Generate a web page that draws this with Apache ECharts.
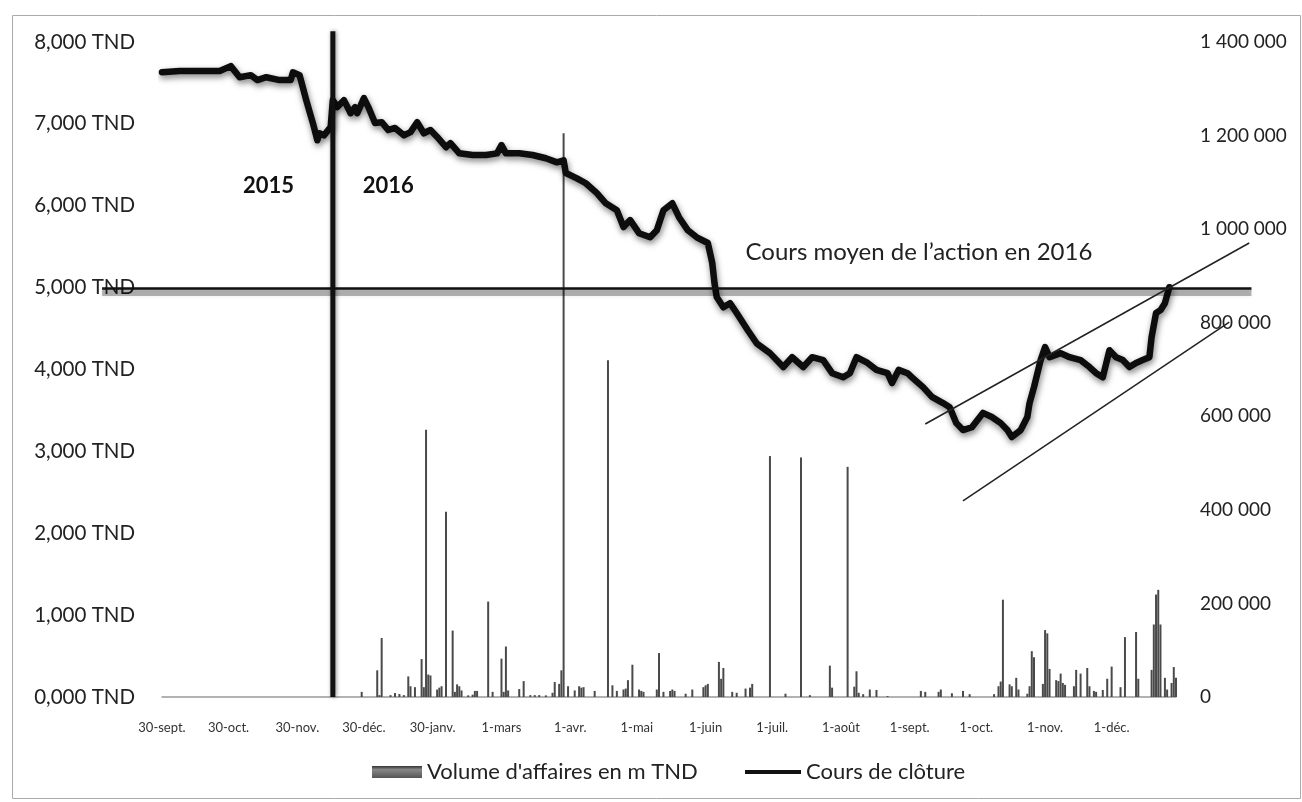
<!DOCTYPE html>
<html><head><meta charset="utf-8">
<script src="https://cdn.jsdelivr.net/npm/echarts@6/dist/echarts.min.js"></script>
<style>html,body{margin:0;padding:0;background:#fff}#c{width:1302px;height:802px}</style>
</head><body><div id="c"></div>
<script>
// ---------- data ----------
const startDate = '2015-09-30';
const endDate = '2016-12-30';

const tickDates = ['2015-09-30','2015-10-30','2015-11-30','2015-12-30','2016-01-30','2016-03-01','2016-04-01','2016-05-01','2016-06-01','2016-07-01','2016-08-01','2016-09-01','2016-10-01','2016-11-01','2016-12-01'];
const tickLabels = ['30-sept.','30-oct.','30-nov.','30-déc.','30-janv.','1-mars','1-avr.','1-mai','1-juin','1-juil.','1-août','1-sept.','1-oct.','1-nov.','1-déc.'];
const leftTickLabels = ['0,000 TND','1,000 TND','2,000 TND','3,000 TND','4,000 TND','5,000 TND','6,000 TND','7,000 TND','8,000 TND'];
const rightTickLabels = ['0','200 000','400 000','600 000','800 000','1 000 000','1 200 000','1 400 000'];

const priceName = 'Cours de clôture';
const volumeName = "Volume d'affaires en m TND";

const priceDates = ['2015-09-30','2015-10-08','2015-10-17','2015-10-26','2015-10-31','2015-11-04','2015-11-09','2015-11-12','2015-11-16','2015-11-22','2015-11-27','2015-11-28','2015-12-01','2015-12-04','2015-12-07','2015-12-09','2015-12-10','2015-12-12','2015-12-15','2015-12-16','2015-12-18','2015-12-21','2015-12-24','2015-12-26','2015-12-27','2015-12-30','2016-01-01','2016-01-04','2016-01-07','2016-01-10','2016-01-13','2016-01-17','2016-01-20','2016-01-23','2016-01-26','2016-01-29','2016-02-01','2016-02-05','2016-02-07','2016-02-11','2016-02-17','2016-02-23','2016-02-28','2016-03-01','2016-03-03','2016-03-09','2016-03-15','2016-03-21','2016-03-26','2016-03-29','2016-03-30','2016-04-04','2016-04-08','2016-04-13','2016-04-17','2016-04-22','2016-04-25','2016-04-28','2016-05-02','2016-05-07','2016-05-10','2016-05-13','2016-05-17','2016-05-20','2016-05-24','2016-05-28','2016-06-02','2016-06-04','2016-06-05','2016-06-06','2016-06-09','2016-06-12','2016-06-15','2016-06-20','2016-06-24','2016-06-30','2016-07-06','2016-07-10','2016-07-15','2016-07-19','2016-07-24','2016-07-28','2016-08-02','2016-08-05','2016-08-08','2016-08-13','2016-08-17','2016-08-22','2016-08-24','2016-08-27','2016-08-31','2016-09-02','2016-09-07','2016-09-11','2016-09-16','2016-09-19','2016-09-22','2016-09-25','2016-09-29','2016-10-04','2016-10-08','2016-10-12','2016-10-15','2016-10-17','2016-10-21','2016-10-24','2016-10-25','2016-10-27','2016-10-30','2016-11-01','2016-11-03','2016-11-08','2016-11-12','2016-11-17','2016-11-21','2016-11-24','2016-11-27','2016-11-30','2016-12-03','2016-12-06','2016-12-09','2016-12-12','2016-12-15','2016-12-18','2016-12-19','2016-12-21','2016-12-23','2016-12-25','2016-12-27'];
const priceValues = [7630,7645,7645,7645,7705,7570,7595,7535,7570,7535,7535,7630,7595,7290,7010,6800,6885,6860,6960,7290,7205,7290,7130,7205,7130,7315,7205,7010,7020,6925,6950,6860,6900,7020,6885,6925,6840,6715,6765,6640,6620,6620,6640,6740,6640,6640,6620,6580,6530,6555,6400,6335,6275,6155,6030,5945,5740,5825,5665,5615,5700,5945,6030,5860,5700,5615,5545,5300,5055,4885,4760,4810,4690,4480,4320,4200,4030,4150,4030,4150,4115,3955,3905,3955,4150,4080,3995,3955,3835,3995,3955,3905,3785,3665,3590,3540,3345,3260,3295,3470,3420,3345,3260,3175,3260,3420,3590,3785,4115,4275,4150,4200,4150,4115,4030,3955,3905,4235,4150,4115,4030,4080,4115,4150,4395,4690,4725,4810,5005];

const volumeDates = ['2015-12-29','2016-01-05','2016-01-06','2016-01-07','2016-01-11','2016-01-13','2016-01-15','2016-01-17','2016-01-19','2016-01-20','2016-01-22','2016-01-25','2016-01-26','2016-01-27','2016-01-28','2016-01-29','2016-02-01','2016-02-02','2016-02-03','2016-02-05','2016-02-08','2016-02-09','2016-02-10','2016-02-11','2016-02-12','2016-02-15','2016-02-17','2016-02-18','2016-02-19','2016-02-24','2016-02-26','2016-03-01','2016-03-02','2016-03-03','2016-03-04','2016-03-09','2016-03-11','2016-03-14','2016-03-16','2016-03-18','2016-03-21','2016-03-24','2016-03-25','2016-03-27','2016-03-28','2016-03-29','2016-03-31','2016-04-03','2016-04-05','2016-04-06','2016-04-07','2016-04-12','2016-04-18','2016-04-20','2016-04-22','2016-04-25','2016-04-26','2016-04-27','2016-04-29','2016-05-02','2016-05-03','2016-05-04','2016-05-10','2016-05-11','2016-05-13','2016-05-16','2016-05-17','2016-05-18','2016-05-23','2016-05-26','2016-05-31','2016-06-01','2016-06-02','2016-06-07','2016-06-08','2016-06-09','2016-06-13','2016-06-15','2016-06-19','2016-06-21','2016-06-22','2016-06-30','2016-07-07','2016-07-14','2016-07-18','2016-07-27','2016-07-28','2016-08-04','2016-08-07','2016-08-08','2016-08-09','2016-08-11','2016-08-14','2016-08-17','2016-08-22','2016-09-06','2016-09-08','2016-09-14','2016-09-15','2016-09-20','2016-09-25','2016-09-28','2016-10-09','2016-10-11','2016-10-12','2016-10-13','2016-10-16','2016-10-17','2016-10-19','2016-10-20','2016-10-24','2016-10-25','2016-10-26','2016-10-27','2016-10-31','2016-11-01','2016-11-02','2016-11-03','2016-11-06','2016-11-07','2016-11-08','2016-11-09','2016-11-10','2016-11-14','2016-11-15','2016-11-17','2016-11-20','2016-11-21','2016-11-23','2016-11-24','2016-11-27','2016-11-29','2016-12-01','2016-12-05','2016-12-07','2016-12-12','2016-12-13','2016-12-19','2016-12-20','2016-12-21','2016-12-22','2016-12-23','2016-12-25','2016-12-26','2016-12-28','2016-12-29','2016-12-30'];
const volumeValues = [11000,57000,4000,126000,4000,8500,6400,4000,44000,23000,21000,81000,21000,571000,48000,46000,16000,20000,23000,396000,142000,11000,27000,23000,14000,3500,5000,13000,13000,204000,11000,82000,11000,108000,14000,17000,34000,4000,4000,4000,3500,9000,32000,28000,57000,1205000,23000,14000,23000,20000,21000,13000,720000,25000,13000,16000,18000,36000,69000,16000,13000,11000,16000,94000,11000,13000,16000,13000,7000,16000,21000,25000,28000,75000,39000,62000,11000,9000,18000,20000,28000,515000,7000,512000,4000,67000,20000,492000,22000,55000,9000,6000,16000,15000,2000,13000,11000,11000,16000,8000,13000,6000,6000,23000,33000,208000,27000,23000,41000,16000,7000,23000,98000,85000,28000,143000,136000,60000,36000,34000,50000,30000,26000,23000,58000,50000,62000,23000,13000,11000,15000,39000,65000,21000,128000,139000,39000,58000,155000,219000,229000,155000,41000,16000,30000,64000,41000];

// annotations (data space: date, TND value)
const yearSplitDate = '2015-12-16';
const yearLabels = [['2015','2015-11-17',6240],['2016','2016-01-10',6240]];
const averagePrice2016 = 4990;
const averageLabel = 'Cours moyen de l\u2019action en 2016';
const averageLabelPos = ['2016-06-19', 5435];
const averageLineSpan = ['2015-09-03','2017-02-02'];
const channelUpper = [['2016-09-08',3334],['2017-02-01',5545]];
const channelLower = [['2016-09-25',2394],['2017-01-23',4580]];

// ---------- helpers ----------
const DAY = 86400000;
function dayIndex(s){ return Math.round((Date.parse(s) - Date.parse(startDate)) / DAY); }
const categories = [];
for (let t = Date.parse(startDate); t <= Date.parse(endDate); t += DAY) {
  categories.push(new Date(t).toISOString().slice(0,10));
}
const FONT = 'Lato, "Open Sans", sans-serif';

const chart = echarts.init(document.getElementById('c'));
const option = {
  backgroundColor: '#fff',
  animation: false,
  textStyle: { fontFamily: FONT },
  grid: { left: 162, right: 126, top: 42, bottom: 105, containLabel: false },
  legend: [
    { left: 367, top: 756, itemWidth: 50, itemHeight: 12, itemGap: 10,
      textStyle: { fontFamily: FONT, fontSize: 22, color: '#222' },
      data: [{ name: volumeName, icon: 'rect',
        itemStyle: { color: new echarts.graphic.LinearGradient(0,0,0,1,[{offset:0,color:'#333'},{offset:0.3,color:'#888'},{offset:1,color:'#555'}]) } }] },
    { left: 740, top: 756, itemWidth: 56, itemHeight: 4,
      textStyle: { fontFamily: FONT, fontSize: 22, color: '#222' },
      data: [{ name: priceName, icon: 'rect', itemStyle: { color: '#111' } }] }
  ],
  xAxis: {
    type: 'category', data: categories, boundaryGap: false,
    axisLine: { show: true, lineStyle: { color: '#999', width: 1.5 } },
    axisTick: { show: false },
    splitLine: { show: false },
    axisLabel: {
      interval: (i, v) => tickDates.indexOf(v) >= 0,
      formatter: v => { const k = tickDates.indexOf(v); return k >= 0 ? tickLabels[k] : ''; },
      fontFamily: FONT, fontSize: 13, color: '#333', margin: 24
    }
  },
  yAxis: [
    { type: 'value', min: 0, max: 8000, interval: 1000,
      axisLine: { show: false }, axisTick: { show: false }, splitLine: { show: false },
      axisLabel: { formatter: v => leftTickLabels[Math.round(v/1000)], fontFamily: FONT, fontSize: 20.5, color: '#222', margin: 27 } },
    { type: 'value', min: 0, max: 1400000, interval: 200000, position: 'right',
      axisLine: { show: false }, axisTick: { show: false }, splitLine: { show: false },
      axisLabel: { formatter: v => rightTickLabels[Math.round(v/200000)], fontFamily: FONT, fontSize: 19, color: '#222', margin: 24 } }
  ],
  series: [
    { name: volumeName, type: 'bar', yAxisIndex: 1, barWidth: 2, barGap: '-100%',
      itemStyle: { color: '#4a4a4a' },
      data: volumeDates.map((d, i) => [d, volumeValues[i]]), z: 2 },
    { name: priceName, type: 'line', yAxisIndex: 0, symbol: 'none', smooth: false,
      lineStyle: { width: 6.5, color: '#0d0d0d', join: 'round', cap: 'round',
        shadowColor: 'rgba(0,0,0,0.5)', shadowBlur: 6, shadowOffsetX: 1, shadowOffsetY: 3 },
      itemStyle: { color: '#111' },
      data: priceDates.map((d, i) => [d, priceValues[i]]), z: 3 }
  ]
};
chart.setOption(option);

// pixel mapping through the chart's own scales (linear extension outside range)
const nLast = categories.length - 1;
const X0 = chart.convertToPixel({ xAxisIndex: 0 }, categories[0]);
const X1 = chart.convertToPixel({ xAxisIndex: 0 }, categories[nLast]);
const Y0 = chart.convertToPixel({ yAxisIndex: 0 }, 0);
const Y1 = chart.convertToPixel({ yAxisIndex: 0 }, 8000);
function P(date, value){ return [X0 + (X1 - X0) * dayIndex(date) / nLast, Y0 + (Y1 - Y0) * value / 8000]; }

const sepTop = P(yearSplitDate, 8130), sepBot = P(yearSplitDate, 0);
const avgL = P(averageLineSpan[0], averagePrice2016), avgR = P(averageLineSpan[1], averagePrice2016);
const u0 = P(channelUpper[0][0], channelUpper[0][1]), u1 = P(channelUpper[1][0], channelUpper[1][1]);
const l0 = P(channelLower[0][0], channelLower[0][1]), l1 = P(channelLower[1][0], channelLower[1][1]);
const alPos = P(averageLabelPos[0], averageLabelPos[1]);

const graphics = [
  { type: 'rect', shape: { x: 12.5, y: 15.5, width: 1288, height: 783 }, style: { fill: 'none', stroke: '#aaa', lineWidth: 1 }, z: 0, silent: true },
  { type: 'line', shape: { x1: avgL[0], y1: avgL[1] + 4, x2: avgR[0], y2: avgR[1] + 4 },
    style: { stroke: 'rgba(0,0,0,0.28)', lineWidth: 7, shadowColor: 'rgba(0,0,0,0.3)', shadowBlur: 4 }, z: 49 },
  { type: 'line', shape: { x1: avgL[0], y1: avgL[1], x2: avgR[0], y2: avgR[1] },
    style: { stroke: '#111', lineWidth: 2.5 }, z: 50 },
  { type: 'line', shape: { x1: sepTop[0], y1: sepTop[1], x2: sepBot[0], y2: sepBot[1] },
    style: { stroke: '#111', lineWidth: 5, shadowColor: 'rgba(0,0,0,0.45)', shadowBlur: 4, shadowOffsetX: 1 }, z: 50 },
  { type: 'line', shape: { x1: u0[0], y1: u0[1], x2: u1[0], y2: u1[1] }, style: { stroke: '#222', lineWidth: 1.5 }, z: 50 },
  { type: 'line', shape: { x1: l0[0], y1: l0[1], x2: l1[0], y2: l1[1] }, style: { stroke: '#222', lineWidth: 1.5 }, z: 50 },
  { type: 'text', x: alPos[0], y: alPos[1], style: { text: averageLabel, fill: '#222', font: '24px ' + FONT, textVerticalAlign: 'middle', textAlign: 'left' }, z: 50 }
];
yearLabels.forEach(([t, d, v]) => {
  const p = P(d, v);
  graphics.push({ type: 'text', x: p[0], y: p[1], style: { text: t, fill: '#111', font: 'bold 22px ' + FONT, textAlign: 'center', textVerticalAlign: 'middle' }, z: 50 });
});
chart.setOption({ graphic: graphics });
</script>
</body></html>
